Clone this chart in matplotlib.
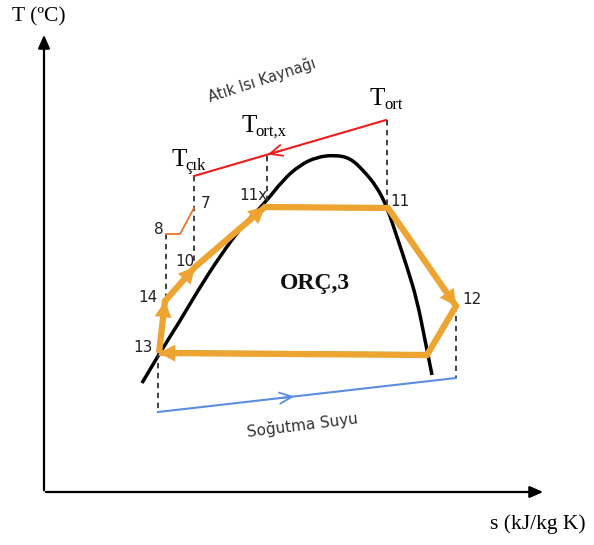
import numpy as np
import matplotlib
matplotlib.use('Agg')
import matplotlib.pyplot as plt
from matplotlib.path import Path
from matplotlib.patches import PathPatch

# --- verilerin tanımı (koordinatlar şematik, görüntü birimlerinde) ---
# doyma eğrisi (kubbe) - kontrol noktaları
dome_s = [142, 159, 180, 197, 220, 243, 265, 283, 300, 317, 335, 350, 363,
          377, 387, 397, 407, 417, 425, 432]
dome_T = [383, 354, 321, 292, 256, 225, 203, 180, 165, 157, 155, 158, 170,
          187, 207, 237, 267, 300, 340, 375]

# ORC çevrimi noktaları: 13, 14, 10, 11x, 11, 12, (yoğuşma), 13
cycle_names = ['13', '14', '10', '11x', '11', '12', 'c', '13']
cycle_s = [159, 165, 195, 265, 388, 456, 427, 159]
cycle_T = [353, 301, 267, 207, 208, 306, 355, 353]
arrow_segments = [(0, 1), (1, 2), (2, 3), (4, 5), (6, 7)]

# atık ısı kaynağı (Tçık -> Tort)
heat_s = [194, 386]
heat_T = [176, 120]
heat_arrow_s = 265

# soğutma suyu
cool_s = [158, 456]
cool_T = [412, 378]

# 8 - 7 arası küçük hat
line87_s = [166, 180, 194]
line87_T = [234, 234, 208]

# kesikli düşey çizgiler (s, T_üst, T_alt)
dashed = [(194, 176, 267), (267, 156, 207), (387, 120, 208),
          (166, 234, 301), (158, 353, 412), (456, 306, 378)]

point_labels = [('8', 159, 229), ('7', 206, 203), ('10', 185, 262),
                ('14', 148, 297), ('13', 143, 348), ('11x', 253, 195),
                ('11', 400, 202), ('12', 472, 299)]

ORANGE = '#eda431'


def smooth_path(xs, ys):
    """kontrol noktalarından geçen yumuşak (ikinci derece bezier) yol"""
    pts = list(zip(xs, ys))
    verts = [pts[0]]
    codes = [Path.MOVETO]
    for k in range(1, len(pts) - 1):
        mid = ((pts[k][0] + pts[k + 1][0]) / 2, (pts[k][1] + pts[k + 1][1]) / 2)
        verts += [pts[k], mid]
        codes += [Path.CURVE3, Path.CURVE3]
    verts.append(pts[-1])
    codes.append(Path.LINETO)
    return Path(verts, codes)


fig = plt.figure(figsize=(5.94, 5.45), dpi=100)
ax = fig.add_axes([0, 0, 1, 1])
ax.set_xlim(0, 594)
ax.set_ylim(545, 0)
ax.axis('off')

# eksenler
ax.annotate('', xy=(44, 32), xytext=(44, 493),
            arrowprops=dict(arrowstyle='-|>,head_length=0.8,head_width=0.35',
                            color='black', lw=1.6))
ax.annotate('', xy=(546, 492), xytext=(43, 492),
            arrowprops=dict(arrowstyle='-|>,head_length=0.8,head_width=0.35',
                            color='black', lw=1.6))
ax.text(12, 17, 'T (ºC)', fontsize=15.5, family='Liberation Serif', va='center')
ax.text(490, 524, 's (kJ/kg K)', fontsize=15.5, family='Liberation Serif',
        va='center')

# kesikli çizgiler
for s, t1, t2 in dashed:
    ax.plot([s, s], [t1, t2], color='#333333', lw=1.3, ls=(0, (3, 2.5)))

# kubbe
ax.add_patch(PathPatch(smooth_path(dome_s, dome_T), facecolor='none',
                       edgecolor='black', lw=2.5, capstyle='butt'))

# atık ısı hattı
ax.plot(heat_s, heat_T, color='#f01c1c', lw=1.5)
slope = (heat_T[1] - heat_T[0]) / (heat_s[1] - heat_s[0])
ta = heat_T[0] + slope * (heat_arrow_s - heat_s[0])
ax.annotate('', xy=(heat_arrow_s, ta), xytext=(heat_arrow_s + 20, ta + 20 * slope),
            arrowprops=dict(arrowstyle='->,head_length=0.9,head_width=0.4',
                            color='#f01c1c', lw=1.3))

# soğutma suyu hattı
ax.plot(cool_s, cool_T, color='#5b8ee0', lw=1.5)
cm = 297
cslope = (cool_T[1] - cool_T[0]) / (cool_s[1] - cool_s[0])
ctm = cool_T[0] + cslope * (cm - cool_s[0])
ax.annotate('', xy=(cm, ctm), xytext=(cm - 20, ctm - 20 * cslope),
            arrowprops=dict(arrowstyle='->,head_length=0.9,head_width=0.4',
                            color='#5b8ee0', lw=1.3))

# 8-7 hattı
ax.plot(line87_s, line87_T, color='#e5782c', lw=1.3)

# yeşil ince hat (yoğuşma)
ax.plot([cycle_s[7] + 5, cycle_s[6]], [cycle_T[7] - 2, cycle_T[6] - 2],
        color='#3cbf4a', lw=1.2)

# çevrim
ax.plot(cycle_s, cycle_T, color=ORANGE, lw=4.5, solid_joinstyle='miter',
        solid_capstyle='butt')
for i, j in arrow_segments:
    ax.annotate('', xy=(cycle_s[j], cycle_T[j]),
                xytext=(cycle_s[i], cycle_T[i]),
                arrowprops=dict(arrowstyle='-|>,head_length=1.15,head_width=0.6',
                                color=ORANGE, lw=0.1, shrinkA=0, shrinkB=0))

# nokta etiketleri
for lab, s, t in point_labels:
    ax.text(s, t, lab, fontsize=11, family='DejaVu Sans', ha='center',
            va='center', color='#222222')

# sıcaklık etiketleri
ax.text(171, 160, 'T', fontsize=18, family='Liberation Serif', va='center')
ax.text(185, 166, 'çık', fontsize=12, family='Liberation Serif', va='center')
ax.text(241, 126, 'T', fontsize=18, family='Liberation Serif', va='center')
ax.text(255, 132, 'ort,x', fontsize=12, family='Liberation Serif', va='center')
ax.text(369, 99, 'T', fontsize=18, family='Liberation Serif', va='center')
ax.text(384, 105, 'ort', fontsize=12, family='Liberation Serif', va='center')

ax.text(262, 80, 'Atık Isı Kaynağı', fontsize=10.5, family='DejaVu Sans',
        ha='center', va='center', rotation=18, color='#333333')
ax.text(302, 425, 'Soğutma Suyu', fontsize=11, family='DejaVu Sans',
        ha='center', va='center', rotation=7, color='#333333')
ax.text(315, 283, 'ORÇ,3', fontsize=17, family='Liberation Serif',
        weight='bold', ha='center', va='center', color='#111111')

fig.savefig('out.png', dpi=100)
